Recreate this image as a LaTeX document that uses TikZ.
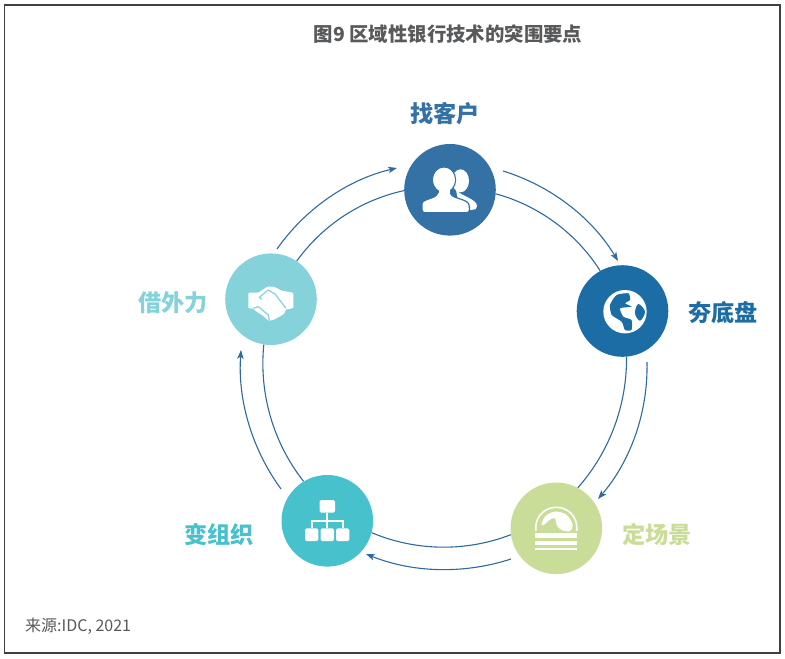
\documentclass[tikz,border=0pt]{standalone}
\usepackage{fontspec}
\setmainfont{Noto Sans CJK SC}
\usetikzlibrary{arrows.meta}
\definecolor{usercol}{HTML}{3471A5}
\definecolor{findcol}{HTML}{1C6DA6}
\definecolor{scenecol}{HTML}{C9DD98}
\definecolor{orgcol}{HTML}{47C1CC}
\definecolor{partnercol}{HTML}{85D2DA}
\definecolor{arccol}{HTML}{2E6A9E}
\definecolor{textcol}{HTML}{58595B}
\definecolor{framecol}{HTML}{404040}
\tikzset{
  step node/.style={
    circle,
    fill=#1,
    minimum size=91.6pt,
    inner sep=0pt,
  },
  step label/.style={
    text=#1,
    font=\fontsize{23.2pt}{26pt}\selectfont\bfseries,
    inner sep=0pt,
  },
  ring arc/.style={
    draw=arccol,
    line width=1.1pt,
    looseness=0.88,
  },
  ring arrow/.style={
    ring arc,
    -{Stealth[length=9pt, width=6.5pt, inset=2.5pt]},
  },
}

\begin{document}
\begin{tikzpicture}[x=1pt, y=-1pt]
      \useasboundingbox (0,0) rectangle (785,659);
      \coordinate (corner nw) at (4.5,5);
      \coordinate (corner se) at (780,653);
      \draw[framecol, line width=1.3pt] (corner nw) rectangle (corner se);

      \node[text=textcol, font=\fontsize{19.4pt}{22pt}\selectfont\bfseries, inner sep=0pt] (title) at (448,34) {图9 区域性银行技术的突围要点};
      \node[text=textcol, font=\fontsize{16pt}{18pt}\selectfont, inner sep=0pt, anchor=west] (source) at (25,626) {来源:IDC, 2021};

      \node[step node=usercol]    (user)    at (450,189.8) {};
      \node[step node=findcol]    (find)    at (622.5,311) {};
      \node[step node=scenecol]   (scene)   at (556.3,528.3) {};
      \node[step node=orgcol]     (org)     at (327.3,520.8) {};
      \node[step node=partnercol] (partner) at (271,299.2) {};

      \node[step label=usercol]    (user label)    at (445,113.5) {找客户};
      \node[step label=findcol]    (find label)    at (723,313) {夯底盘};
      \node[step label=scenecol]   (scene label)   at (657,535) {定场景};
      \node[step label=orgcol]     (org label)     at (219,535) {变组织};
      \node[step label=partnercol] (partner label) at (173,303) {借外力};

      % free ends of the outer arrows
      \coordinate (o1) at (503,171);
      \coordinate (o2) at (618,261);
      \coordinate (o3) at (647,362);
      \coordinate (o4) at (598,499);
      \coordinate (o5) at (511,559);
      \coordinate (o6) at (366,554);
      \coordinate (o7) at (281,489);
      \coordinate (o8) at (241,350);
      \coordinate (o9) at (277,249);
      \coordinate (o10) at (397,168);

      \draw[ring arc] (user.-5)     to[bend left=21] (find.119);
      \draw[ring arc] (find.-85)    to[bend left=21] (scene.62);
      \draw[ring arc] (scene.188)   to[bend left=22] (org.-15);
      \draw[ring arc] (org.121)     to[bend left=22] (partner.261);
      \draw[ring arc] (partner.56)  to[bend left=21] (user.181);

      \draw[ring arrow] (o1) to[bend left=21] (o2);
      \draw[ring arrow] (o3) to[bend left=21] (o4);
      \draw[ring arrow] (o5) to[bend left=20] (o6);
      \draw[ring arrow] (o7) to[bend left=20] (o8);
      \draw[ring arrow] (o9) to[bend left=21] (o10);

      % people
      \begin{scope}[shift={(user.center)}]
        \fill[white] (10.5,-9) ellipse[x radius=8.5, y radius=11.5];
        \fill[white] (6,0) .. controls (12,7) and (27,9) .. (27,16.5) .. controls (27,19.5) and (25,20) .. (22,20) -- (10,20) -- cycle;
        \filldraw[white, draw=usercol, line width=1.2pt] (-6,-10) ellipse[x radius=11.6, y radius=12.8];
        \filldraw[white, draw=usercol, line width=1.2pt, rounded corners=3pt] (-12,1) .. controls (-14,9) and (-28,9) .. (-28,17) -- (-28,23) -- (19.5,23) -- (19.5,18) .. controls (18,9) and (2,9) .. (0,1) -- cycle;
        \fill[white] (-6,-10) ellipse[x radius=10.8, y radius=12];
        \fill[white] (-11.5,-1) rectangle (-0.5,5);
      \end{scope}

      % globe
      \begin{scope}[shift={(find.center)}]
        \fill[white] (2.5,0.7) circle[radius=21.7];
        \clip (2.5,0.7) circle[radius=21];
        \fill[findcol] plot[smooth cycle, tension=0.35] coordinates {(-12.5,-6) (-6,-16) (6,-17.7) (7.5,-11) (2.5,-7.7) (9,-4.3) (-2.5,-2.7) (0.8,5.7) (9,9) (9,19) (2.5,19) (-0.8,10.7) (-10.8,4)};
        \fill[findcol] plot[smooth cycle, tension=0.6] coordinates {(15.8,-7) (22.5,0.7) (17.5,9.7) (12.5,2.3)};
      \end{scope}

      % dome
      \begin{scope}[shift={(scene.center)}]
        \draw[white, line width=1.6pt] (-20.5,2.5) -- (-20.5,-1) arc[start angle=180, end angle=360, x radius=20.5, y radius=20] -- (20.5,2.5);
        \fill[white] (-21,5) rectangle (21,10);
        \fill[white] (-21,13) rectangle (21,17);
        \fill[white] (-21,19.3) rectangle (21,21.7);
        \fill[white] plot[smooth cycle, tension=0.6] coordinates {(-14.7,-3.3) (-11.3,-11.7) (-1.3,-16.7) (10.3,-13.3) (16.3,-3.3) (13.7,2.7) (5.3,1.7) (0.3,-3.3) (-1.3,-10) (-7,-8.3) (-11.3,-4.3)};
      \end{scope}

      % tree
      \begin{scope}[shift={(org.center)}]
        \draw[white, line width=2.2pt] (0,-8) -- (0,7.5) (-15.6,7.5) -- (-15.6,0) -- (15.6,0) -- (15.6,7.5);
        \fill[white, rounded corners=1.5pt] (-7.7,-20.8) rectangle (7.7,-8.1);
        \fill[white, rounded corners=1.5pt] (-22.3,7.5) rectangle (-9,20.2);
        \fill[white, rounded corners=1.5pt] (-6.7,7.5) rectangle (6.7,20.2);
        \fill[white, rounded corners=1.5pt] (8.7,7.5) rectangle (22,20.2);
      \end{scope}

      % handshake
      \begin{scope}[shift={(partner.center)}]
        \fill[white, rounded corners=1pt] (-22.7,-6.5) -- (-12.7,-6.5) -- (-3.7,-12.5) -- (3,-12.5) -- (10.7,-8.5) -- (22.3,-6.5) -- (22.3,9.1) -- (15,10.1) -- (13,14.8) -- (7.3,18.1) -- (2.3,20.8) -- (-2.3,21.5) -- (-7.7,16.8) -- (-14.3,12.5) -- (-18.3,9.1) -- (-22.7,9.1) -- cycle;
        \draw[partnercol, line width=1.2pt, line join=round] (-9.3,0.1) -- (-11.7,-1.9) -- (-2.7,-9.2) -- (4,-5.2) -- (15,9.1);
        \draw[partnercol, line width=1.2pt, line join=round] (-17.7,9.1) -- (-12.7,7.5) -- (-2.7,15.8) -- (-1.7,20.8);
      \end{scope}
\end{tikzpicture}
\end{document}
